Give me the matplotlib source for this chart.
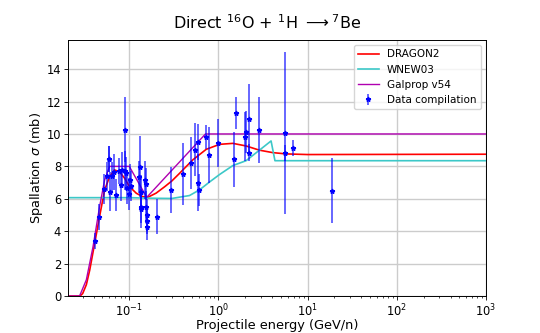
# encoding utf-8

import matplotlib
matplotlib.use('Agg')
from matplotlib import pyplot as plt

# data compilation: energy (GeV/n), cross section (mb), error (mb)
data_E = [0.0416, 0.0461, 0.0515, 0.0567, 0.0585, 0.0595, 0.0612, 0.0645, 0.0680,
          0.0717, 0.0760, 0.0799, 0.0835, 0.0886, 0.0900, 0.0927, 0.0948, 0.0980,
          0.1025, 0.1040, 0.1300, 0.1310, 0.1340, 0.1350, 0.1370, 0.1510, 0.1540,
          0.1550, 0.1560, 0.1560, 0.1560, 0.2060, 0.2960, 0.3980, 0.4940, 0.5480,
          0.5900, 0.5970, 0.6000, 0.7280, 0.7930, 1.000, 1.480, 1.580, 1.970,
          2.060, 2.190, 2.200, 2.880, 5.630, 5.630, 6.870, 18.80]
data_sigma = [3.41, 4.90, 6.60, 7.40, 8.45, 8.47, 6.44, 7.40, 7.67,
              6.23, 7.70, 6.85, 7.78, 7.74, 10.25, 7.57, 6.65, 6.30,
              7.16, 6.79, 7.33, 7.98, 6.44, 5.50, 5.40, 7.16, 6.90,
              5.50, 5.00, 4.60, 4.24, 4.90, 6.55, 7.53, 8.23, 9.03,
              9.50, 7.00, 6.54, 9.83, 8.70, 9.44, 8.43, 11.28, 9.83,
              10.14, 10.90, 8.85, 10.25, 10.04, 8.83, 9.12, 6.50]
data_err = [0.5, 0.8, 0.9, 0.9, 0.8, 0.8, 1.2, 0.9, 1.1,
            1.0, 0.8, 1.0, 1.1, 1.2, 2.0, 1.0, 1.0, 1.0,
            1.0, 0.9, 1.0, 1.9, 1.0, 1.0, 1.2, 1.2, 1.0,
            1.0, 1.0, 0.8, 0.8, 1.1, 1.4, 1.9, 1.6, 1.65,
            1.1, 1.75, 1.0, 0.75, 1.75, 1.5, 1.7, 1.0, 1.5,
            1.3, 2.2, 0.5, 2.05, 5.0, 0.5, 0.5, 2.0]

# model curves
dragon_E = [0.02, 0.028, 0.030, 0.033, 0.036, 0.0409, 0.0464, 0.0529, 0.0601, 0.0683,
            0.0775, 0.0886, 0.1006, 0.120, 0.142, 0.161, 0.2, 0.25, 0.3, 0.366,
            0.515, 0.728, 1.03, 1.45, 2.04, 2.88, 4.05, 5.7, 10.0, 1000.0]
dragon_sigma = [0.0, 0.0, 0.15, 0.7, 1.6, 3.25, 4.9, 6.54, 7.36, 7.78,
                7.67, 7.27, 6.75, 6.34, 6.13, 6.09, 6.35, 6.75, 7.1, 7.57,
                8.4, 9.05, 9.36, 9.42, 9.26, 9.0, 8.85, 8.77, 8.73, 8.75]

wnew_E = [0.02, 0.1, 0.2, 0.3, 0.366, 0.473, 0.613, 0.8, 1.03, 1.45, 2.04, 2.88, 3.89, 4.3, 1000.0]
wnew_sigma = [6.07, 6.07, 6.03, 6.02, 6.1, 6.2, 6.55, 7.05, 7.5, 8.05, 8.35, 9.0, 9.57, 8.35, 8.35]

galprop_E = [0.02, 0.0277, 0.033, 0.0392, 0.0464, 0.0529, 0.0601, 0.1, 0.157, 0.715, 1000.0]
galprop_sigma = [0.0, 0.0, 1.0, 3.04, 5.5, 7.16, 8.0, 8.0, 6.09, 10.0, 10.0]


def spallation_plot():
    fig = plt.figure(figsize=(5.4, 3.33), dpi=100)
    ax = fig.add_axes([0.1254, 0.111, 0.7746, 0.769])

    ax.plot(dragon_E, dragon_sigma, color='red', lw=1.2, label='DRAGON2')
    ax.plot(wnew_E, wnew_sigma, color='#3cc8c8', lw=1.2, label='WNEW03')
    ax.plot(galprop_E, galprop_sigma, color='#b000b0', lw=1.0, label='Galprop v54')
    ax.errorbar(data_E, data_sigma, yerr=data_err, fmt='*', color='b', ms=3.5,
                ecolor=(0.0, 0.0, 1.0, 0.6), elinewidth=1.4, label='Data compilation')

    ax.set_xscale('log')
    ax.set_xlim(0.0204, 1000)
    ax.set_ylim(0, 15.8)
    ax.set_yticks(range(0, 15, 2))
    ax.grid(True, color='0.8', lw=1)
    ax.set_axisbelow(True)
    ax.tick_params(labelsize=8.3, length=2.6, width=0.6, pad=2.2)
    ax.tick_params(which='minor', length=1.5, width=0.5)
    for s in ax.spines.values():
        s.set_linewidth(0.7)

    ax.set_xlabel('Projectile energy (GeV/n)', fontsize=9.3)
    ax.xaxis.set_label_coords(0.5, -0.09)
    ax.set_ylabel(r'Spallation $\sigma$ (mb)', fontsize=9.3)
    ax.yaxis.set_label_coords(-0.055, 0.5)
    ax.set_title(r'Direct $^{16}$O + $^{1}$H $\longrightarrow ^{7}$Be', fontsize=11.5,
                 pad=8, x=0.477)
    ax.legend(loc='upper right', fontsize=7.5)

    fig.savefig('out.png', dpi=100)


if __name__ == '__main__':
    spallation_plot()
